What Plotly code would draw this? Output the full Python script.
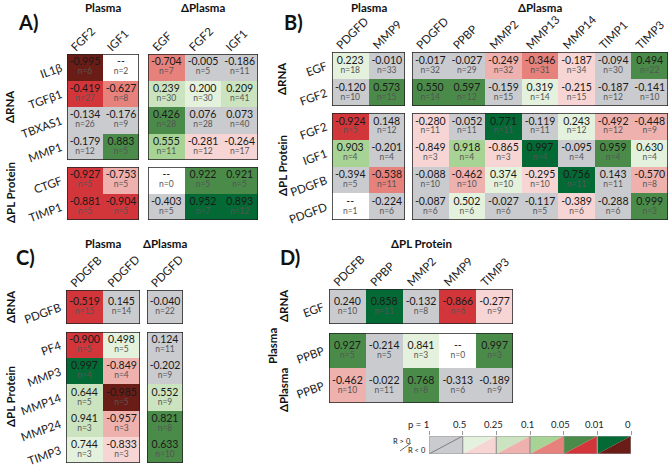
import plotly.graph_objects as go

W, H = 669, 467
FONT = "Lato"

# ---------------- data ----------------
A_rows = ["IL1β", "TGFβ1", "TBXAS1", "MMP1", "CTGF", "TIMP1"]
A_cols = ["FGF2", "IGF1", "EGF", "FGF2", "IGF1"]
A_r = [
    [-0.995, None, -0.704, -0.005, -0.186],
    [-0.419, -0.627, 0.239, 0.200, 0.209],
    [-0.134, -0.176, 0.426, 0.076, 0.073],
    [-0.179, 0.883, 0.555, -0.281, -0.264],
    [-0.927, -0.753, None, 0.922, 0.921],
    [-0.881, -0.904, -0.403, 0.952, 0.893],
]
A_n = [
    [6, 2, 7, 5, 11],
    [27, 8, 30, 30, 41],
    [26, 9, 28, 28, 40],
    [12, 5, 11, 12, 17],
    [5, 5, 0, 5, 5],
    [5, 5, 5, 7, 12],
]
A_p = [
    [0.01, None, 0.1, 1, 1],
    [0.05, 0.1, 0.25, 0.5, 0.25],
    [1, 1, 0.05, 1, 1],
    [1, 0.05, 0.1, 0.5, 0.5],
    [0.05, 0.25, None, 0.05, 0.05],
    [0.05, 0.05, 1, 0.01, 0.01],
]

B_rows = ["EGF", "FGF2", "FGF2", "IGF1", "PDGFB", "PDGFD"]
B_cols = ["PDGFD", "MMP9", "PDGFD", "PPBP", "MMP2", "MMP13", "MMP14", "TIMP1", "TIMP3"]
B_r = [
    [0.223, -0.010, -0.017, -0.027, -0.249, -0.346, -0.187, -0.094, 0.494],
    [-0.120, 0.573, 0.550, 0.597, -0.159, 0.319, -0.215, -0.187, -0.141],
    [-0.924, 0.148, -0.280, -0.052, 0.771, -0.119, 0.243, -0.492, -0.448],
    [0.903, -0.201, -0.849, 0.918, -0.865, 0.997, -0.095, 0.959, 0.630],
    [-0.394, -0.538, -0.088, -0.462, 0.374, -0.295, 0.756, 0.143, -0.570],
    [None, -0.224, -0.087, 0.502, -0.027, -0.117, -0.389, -0.288, 0.999],
]
B_n = [
    [18, 33, 32, 29, 32, 31, 34, 30, 22],
    [10, 15, 14, 12, 15, 14, 15, 12, 10],
    [5, 12, 11, 11, 11, 11, 12, 12, 9],
    [4, 4, 3, 4, 3, 4, 4, 4, 4],
    [5, 11, 10, 10, 10, 10, 11, 11, 8],
    [1, 6, 6, 6, 6, 5, 6, 6, 3],
]
B_p = [
    [0.5, 1, 1, 1, 0.25, 0.1, 0.5, 1, 0.05],
    [1, 0.05, 0.05, 0.05, 1, 0.5, 0.5, 1, 1],
    [0.05, 1, 0.5, 1, 0.01, 1, 0.5, 0.25, 0.25],
    [0.1, 1, 0.5, 0.1, 0.5, 0.01, 1, 0.05, 0.5],
    [1, 0.1, 1, 0.25, 0.5, 0.5, 0.01, 1, 0.25],
    [None, 1, 1, 0.5, 1, 1, 0.5, 1, 0.05],
]

C_rows = ["PDGFB", "PF4", "MMP3", "MMP14", "MMP24", "TIMP3"]
C_cols = ["PDGFB", "PDGFD", "PDGFD"]
C_r = [
    [-0.519, 0.145, -0.040],
    [-0.900, 0.498, 0.124],
    [0.997, -0.849, -0.202],
    [0.644, -0.985, 0.552],
    [0.941, -0.957, 0.821],
    [0.744, -0.833, 0.633],
]
C_n = [[15, 14, 22], [5, 5, 11], [4, 4, 9], [5, 5, 9], [3, 3, 8], [3, 3, 10]]
C_p = [[0.05, 1, 1], [0.05, 0.5, 1], [0.01, 0.25, 1], [0.25, 0.01, 0.25],
       [0.25, 0.25, 0.05], [0.5, 0.5, 0.05]]

D_rows = ["EGF", "PPBP", "PPBP"]
D_cols = ["PDGFB", "PPBP", "MMP2", "MMP9", "TIMP3"]
D_r = [
    [0.240, 0.858, -0.132, -0.866, -0.277],
    [0.927, -0.214, 0.841, None, 0.997],
    [-0.462, -0.022, 0.768, -0.313, -0.189],
]
D_n = [[10, 11, 8, 6, 9], [5, 5, 3, 0, 3], [10, 11, 8, 6, 9]]
D_p = [[1, 0.01, 1, 0.05, 0.5], [0.05, 1, 0.5, None, 0.05], [0.25, 1, 0.05, 1, 1]]

P_BINS = [1, 0.5, 0.25, 0.1, 0.05, 0.01]
P_LABELS = ["p = 1", "0.5", "0.25", "0.1", "0.05", "0.01", "0"]

# ---------------- styles ----------------
GREY = "#CACBCF"
POS_COLORS = [GREY, "#E4F1DC", "#CBE4BF", "#A7D395", "#4B8B49", "#036A35"]
NEG_COLORS = [GREY, "#F7D5D4", "#EEB1AE", "#E6817C", "#D2363A", "#6A1D16"]
NA_COLOR = "#FFFFFF"
CODE_COLORS = [NA_COLOR, GREY] + POS_COLORS[1:] + NEG_COLORS[1:]
NC = len(CODE_COLORS)
colorscale = []
for k, c in enumerate(CODE_COLORS):
    colorscale += [[k / NC, c], [(k + 1) / NC, c]]


def code(r, p):
    if r is None or p is None:
        return 0
    i = P_BINS.index(p)
    if i == 0:
        return 1
    return 1 + i if r > 0 else 6 + i


PANELS = {
    "A": (A_rows, A_cols, A_r, A_n, A_p),
    "B": (B_rows, B_cols, B_r, B_n, B_p),
    "C": (C_rows, C_cols, C_r, C_n, C_p),
    "D": (D_rows, D_cols, D_r, D_n, D_p),
}

# panel, rows [r0,r1), cols [c0,c1), x px, y px, show col labels, show row labels
BLOCKS = [
    ("A", 0, 4, 0, 2, (67, 139), (54, 160), True, True),
    ("A", 0, 4, 2, 5, (148, 258), (54, 160), True, False),
    ("A", 4, 6, 0, 2, (67, 139), (167, 220), False, True),
    ("A", 4, 6, 2, 5, (148, 258), (167, 220), False, False),
    ("B", 0, 2, 0, 2, (332, 405), (52, 106), True, True),
    ("B", 0, 2, 2, 9, (412, 668), (52, 106), True, False),
    ("B", 2, 6, 0, 2, (332, 405), (113, 220), False, True),
    ("B", 2, 6, 2, 9, (412, 668), (113, 220), False, False),
    ("C", 0, 1, 0, 2, (66, 140), (290, 324), True, True),
    ("C", 0, 1, 2, 3, (147, 183), (290, 324), True, False),
    ("C", 1, 6, 0, 2, (66, 140), (332, 463), False, True),
    ("C", 1, 6, 2, 3, (147, 183), (332, 463), False, False),
    ("D", 0, 1, 0, 5, (329, 513), (289, 324), True, True),
    ("D", 1, 3, 0, 5, (329, 513), (333, 403), False, True),
]

fig = go.Figure()
layout = dict(width=W, height=H, margin=dict(l=0, r=0, t=0, b=0, autoexpand=False),
              paper_bgcolor="white", plot_bgcolor="white", showlegend=False,
              font=dict(family=FONT, color="#222"))
shapes, annotations = [], []


def ax_names(k):
    s = "" if k == 1 else str(k)
    return "xaxis" + s, "yaxis" + s, "x" + s, "y" + s


for k, (pn, r0, r1, c0, c1, (x0, x1), (y0, y1), showx, showy) in enumerate(BLOCKS, start=1):
    rows, cols, R, N, P = PANELS[pn]
    nr, nc = r1 - r0, c1 - c0
    xa, ya, xr, yr = ax_names(k)
    z = [[code(R[i][j], P[i][j]) for j in range(c0, c1)] for i in range(r0, r1)]
    fig.add_trace(go.Heatmap(z=z, x=list(range(nc)), y=list(range(nr)), colorscale=colorscale,
                             zmin=-0.5, zmax=NC - 0.5, showscale=False, hoverinfo="skip",
                             xaxis=xr, yaxis=yr))
    row_px = (y1 - y0) / nr
    xs, yv, yn, tv, tn = [], [], [], [], []
    for i in range(r0, r1):
        for j in range(c0, c1):
            xs.append(j - c0)
            yv.append(i - r0 - 4.5 / row_px)
            yn.append(i - r0 + 5.0 / row_px)
            tv.append("--" if (R[i][j] is None) else f"{R[i][j]:.3f}")
            tn.append(f"n={N[i][j]}")
    fig.add_trace(go.Scatter(x=xs, y=yv, text=tv, mode="text", cliponaxis=False,
                             textfont=dict(family=FONT, size=10.5, color="#1a1a1a"),
                             hoverinfo="skip", xaxis=xr, yaxis=yr))
    fig.add_trace(go.Scatter(x=xs, y=yn, text=tn, mode="text", cliponaxis=False,
                             textfont=dict(family=FONT, size=8.5, color="#555"),
                             hoverinfo="skip", xaxis=xr, yaxis=yr))
    layout[xa] = dict(domain=[x0 / W, x1 / W], range=[-0.5, nc - 0.5], anchor=yr, side="top",
                      showgrid=False, zeroline=False, showline=False, ticks="", automargin=False,
                      ticklabeloverflow="allow",
                      tickvals=list(range(nc)) if showx else [],
                      ticktext=cols[c0:c1] if showx else [],
                      tickangle=-45, tickfont=dict(family=FONT, size=11.5, color="#222"),
                      ticklabelshift=-13, ticklabelstandoff=-3, fixedrange=True)
    layout[ya] = dict(domain=[1 - y1 / H, 1 - y0 / H], range=[nr - 0.5, -0.5], anchor=xr,
                      showgrid=False, zeroline=False, showline=False, ticks="", automargin=False,
                      ticklabeloverflow="allow",
                      tickvals=list(range(nr)) if showy else [],
                      ticktext=rows[r0:r1] if showy else [],
                      tickangle=-20, tickfont=dict(family=FONT, size=11.5, color="#222"),
                      ticklabelstandoff=5, fixedrange=True)
    shapes.append(dict(type="rect", xref=xr, yref=yr, x0=-0.5, x1=nc - 0.5, y0=-0.5, y1=nr - 0.5,
                       line=dict(color="#222", width=1.5), fillcolor="rgba(0,0,0,0)", layer="above"))


def pann(text, x, y, size=11.5, bold=True, angle=0, **kw):
    annotations.append(dict(text=f"<b>{text}</b>" if bold else text, x=x / W, y=1 - y / H,
                            xref="paper", yref="paper", showarrow=False, textangle=angle,
                            xanchor=kw.pop("xanchor", "center"), yanchor="middle",
                            font=dict(family=FONT, size=size, color="#111"), **kw))


def block_cx(idx):
    x0, x1 = BLOCKS[idx][5]
    return (x0 + x1) / 2


# column group headers
pann("Plasma", block_cx(0), 7)
pann("ΔPlasma", block_cx(1), 7)
pann("Plasma", block_cx(4), 7)
pann("ΔPlasma", block_cx(5), 7)
pann("Plasma", block_cx(8), 243)
pann("ΔPlasma", block_cx(9), 243)
pann("ΔPL Protein", block_cx(12), 243)

# panel letters
pann("A)", 28, 22, size=20)
pann("B)", 293, 22, size=20)
pann("C)", 25, 257, size=20)
pann("D)", 290, 257, size=20)

# row group labels
pann("ΔRNA", 10, 107, angle=-90)
pann("ΔPL Protein", 10, 193, angle=-90)
pann("ΔRNA", 282, 79, angle=-90)
pann("ΔPL Protein", 282, 166, angle=-90)
pann("ΔRNA", 10, 307, angle=-90)
pann("ΔPL Protein", 10, 397, angle=-90)
pann("ΔRNA", 283, 306, angle=-90)
pann("Plasma", 272, 346, angle=-90)
pann("ΔPlasma", 283, 390, angle=-90)

# ---------------- p-value key ----------------
kl = len(BLOCKS) + 1
xa, ya, xr, yr = ax_names(kl)
nb = len(P_BINS)
for i in range(nb):
    fig.add_trace(go.Scatter(x=[i, i, i + 1, i], y=[0, 1, 1, 0], fill="toself", mode="lines",
                             fillcolor=POS_COLORS[i], line=dict(width=0), hoverinfo="skip",
                             xaxis=xr, yaxis=yr))
    fig.add_trace(go.Scatter(x=[i, i + 1, i + 1, i], y=[0, 0, 1, 0], fill="toself", mode="lines",
                             fillcolor=NEG_COLORS[i], line=dict(width=0), hoverinfo="skip",
                             xaxis=xr, yaxis=yr))
    shapes.append(dict(type="rect", xref=xr, yref=yr, x0=i, x1=i + 1, y0=0, y1=1,
                       line=dict(color="#999", width=1), layer="above"))
fig.add_trace(go.Scatter(x=[0, 1], y=[0, 1], mode="lines", line=dict(color="#666", width=0.8),
                         hoverinfo="skip", xaxis=xr, yaxis=yr))
layout[xa] = dict(domain=[429 / W, 631 / W], range=[0, nb], anchor=yr, side="top",
                  showgrid=False, zeroline=False, showline=False, ticks="outside", ticklen=4,
                  tickcolor="#999", tickvals=list(range(nb + 1)), showticklabels=False,
                  automargin=False, fixedrange=True)
layout[ya] = dict(domain=[1 - 454 / H, 1 - 436 / H], range=[0, 1], anchor=xr, visible=False,
                  automargin=False, fixedrange=True)
for i, lab in enumerate(P_LABELS):
    annotations.append(dict(text=lab, x=i, y=1, xref=xr, yref=yr, yshift=4,
                            xanchor="right" if i == 0 else "center", xshift=2 if i == 0 else -3,
                            yanchor="bottom", showarrow=False,
                            font=dict(family=FONT, size=9.5, color="#222")))
pann("R > 0", 402, 441, size=7.5, bold=False)
pann("R < 0", 417, 450, size=7.5, bold=False)
shapes.append(dict(type="line", xref="paper", yref="paper", x0=400 / W, y0=1 - 451 / H,
                   x1=411 / W, y1=1 - 443 / H, line=dict(color="#444", width=0.8)))

layout["shapes"] = shapes
layout["annotations"] = annotations
fig.update_layout(**layout)
fig.write_html("out.html", config={"displayModeBar": False},
               post_script="document.body.style.margin='0';document.body.style.overflow='hidden';")
